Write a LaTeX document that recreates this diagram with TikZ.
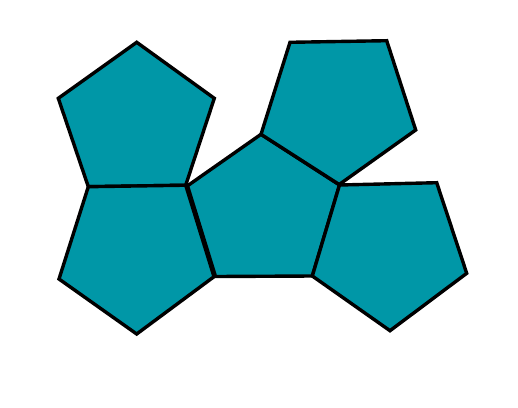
\documentclass[tikz,border=0pt]{standalone}
\usepackage{tikz}
\definecolor{tealface}{RGB}{0,151,167}

\begin{document}
\begin{tikzpicture}[x=1pt, y=-1pt, face/.style={line width=3.4pt, draw=black, fill=tealface}]
		%%%%% START %%%%%
		
		\useasboundingbox (0, 0) rectangle (518, 407);
		
		\draw[face] (136.7, 42.3) -- (214.3, 98.3) -- (185.7, 185.2) -- (88.3, 186.7) -- (58.3, 98.3) -- cycle;
		
		\draw[face] (88.3, 186.7) -- (185.7, 185.2) -- (214, 276.7) -- (136.7, 334) -- (59, 279) -- cycle;
		
		\draw[face] (261, 134.3) -- (339.5, 185) -- (312.3, 276) -- (215.5, 276.5) -- (187.5, 185.8) -- cycle;
		
		\draw[face] (290, 42.3) -- (386.7, 40.7) -- (415.7, 130) -- (339.2, 184.5) -- (261, 134.3) -- cycle;
		
		\draw[face] (339.5, 185) -- (436.7, 182.7) -- (466.7, 273.3) -- (390, 330.7) -- (312.3, 276) -- cycle;
		
		%%%%% END %%%%%
\end{tikzpicture}
\end{document}
